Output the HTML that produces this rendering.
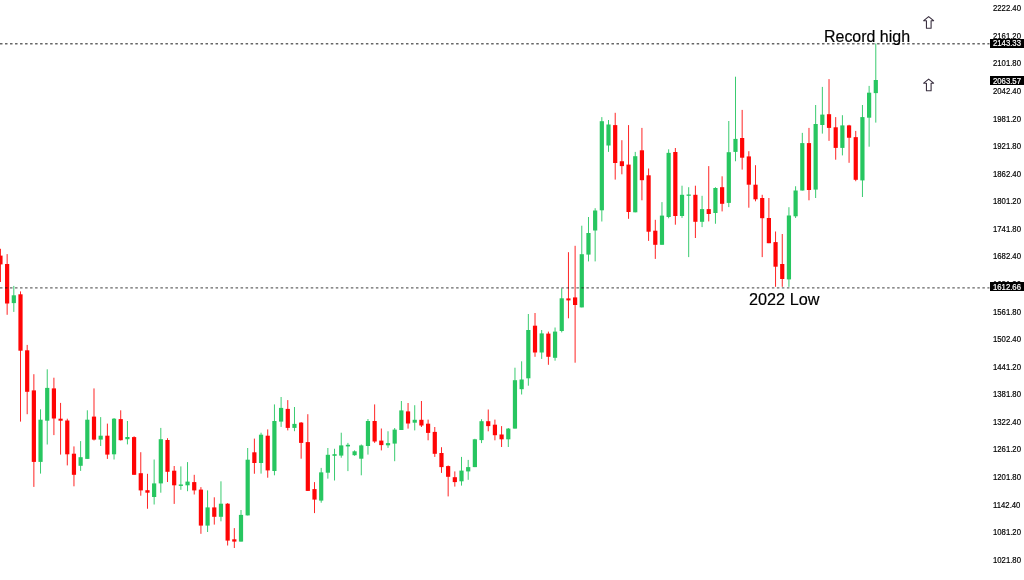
<!DOCTYPE html>
<html><head><meta charset="utf-8"><title>Chart</title>
<style>
html,body{margin:0;padding:0;background:#fff;}
body{width:1024px;height:580px;position:relative;overflow:hidden;font-family:"Liberation Sans",sans-serif;}
#chart{position:absolute;left:0;top:0;width:1024px;height:580px;}
.lab{position:absolute;left:993px;width:40px;height:10px;line-height:10px;font-size:8.8px;color:#000;white-space:nowrap;transform:scaleX(0.88);transform-origin:0 0;-webkit-text-stroke:0.2px #000;}
.box{position:absolute;left:989.5px;width:34.5px;height:9px;background:#000;color:#fff;font-size:8.8px;line-height:9px;white-space:nowrap;}
.box span{position:absolute;left:3.8px;top:0.5px;transform:scaleX(0.88);transform-origin:0 0;-webkit-text-stroke:0.2px #fff;}
.note{position:absolute;font-size:16px;line-height:18px;color:#000;transform-origin:0 0;-webkit-text-stroke:0.18px #000;white-space:nowrap;}
</style></head><body>
<svg id="chart" width="1024" height="580" viewBox="0 0 1024 580">
<rect x="-0.02" y="248.80" width="0.95" height="33.20" fill="#ff1a1a"/>
<rect x="-1.65" y="255.60" width="4.2" height="8.80" fill="#ff0505"/>
<rect x="6.66" y="254.10" width="0.95" height="60.70" fill="#ff1a1a"/>
<rect x="5.03" y="264.00" width="4.2" height="39.50" fill="#ff0505"/>
<rect x="13.34" y="285.90" width="0.95" height="26.00" fill="#30c969"/>
<rect x="11.71" y="295.30" width="4.2" height="7.80" fill="#27c660"/>
<rect x="20.02" y="291.40" width="0.95" height="130.20" fill="#ff1a1a"/>
<rect x="18.40" y="294.30" width="4.2" height="56.40" fill="#ff0505"/>
<rect x="26.70" y="344.90" width="0.95" height="69.30" fill="#ff1a1a"/>
<rect x="25.08" y="350.30" width="4.2" height="41.50" fill="#ff0505"/>
<rect x="33.39" y="374.20" width="0.95" height="112.70" fill="#ff1a1a"/>
<rect x="31.76" y="390.40" width="4.2" height="71.50" fill="#ff0505"/>
<rect x="40.07" y="409.30" width="0.95" height="64.30" fill="#30c969"/>
<rect x="38.44" y="419.70" width="4.2" height="42.20" fill="#27c660"/>
<rect x="46.75" y="369.30" width="0.95" height="75.20" fill="#30c969"/>
<rect x="45.12" y="387.90" width="4.2" height="32.80" fill="#27c660"/>
<rect x="53.43" y="377.70" width="0.95" height="57.40" fill="#ff1a1a"/>
<rect x="51.81" y="388.40" width="4.2" height="30.10" fill="#ff0505"/>
<rect x="60.11" y="402.90" width="0.95" height="51.70" fill="#ff1a1a"/>
<rect x="58.49" y="418.70" width="4.2" height="2.00" fill="#ff0505"/>
<rect x="66.80" y="418.70" width="0.95" height="46.70" fill="#ff1a1a"/>
<rect x="65.17" y="420.50" width="4.2" height="33.80" fill="#ff0505"/>
<rect x="73.48" y="446.40" width="0.95" height="39.90" fill="#ff1a1a"/>
<rect x="71.85" y="453.70" width="4.2" height="21.10" fill="#ff0505"/>
<rect x="80.16" y="441.10" width="0.95" height="29.80" fill="#30c969"/>
<rect x="78.53" y="457.20" width="4.2" height="8.60" fill="#27c660"/>
<rect x="86.84" y="410.30" width="0.95" height="48.60" fill="#30c969"/>
<rect x="85.22" y="419.70" width="4.2" height="39.20" fill="#27c660"/>
<rect x="93.52" y="388.40" width="0.95" height="52.10" fill="#ff1a1a"/>
<rect x="91.90" y="416.60" width="4.2" height="23.00" fill="#ff0505"/>
<rect x="100.21" y="417.10" width="0.95" height="28.90" fill="#30c969"/>
<rect x="98.58" y="435.70" width="4.2" height="3.90" fill="#27c660"/>
<rect x="106.89" y="423.60" width="0.95" height="35.30" fill="#ff1a1a"/>
<rect x="105.26" y="435.70" width="4.2" height="18.90" fill="#ff0505"/>
<rect x="113.57" y="418.00" width="0.95" height="41.50" fill="#30c969"/>
<rect x="111.94" y="418.70" width="4.2" height="35.60" fill="#27c660"/>
<rect x="120.25" y="410.30" width="0.95" height="30.20" fill="#ff1a1a"/>
<rect x="118.63" y="419.10" width="4.2" height="21.10" fill="#ff0505"/>
<rect x="126.93" y="421.00" width="0.95" height="23.40" fill="#30c969"/>
<rect x="125.31" y="437.00" width="4.2" height="2.20" fill="#27c660"/>
<rect x="133.62" y="436.30" width="0.95" height="38.50" fill="#ff1a1a"/>
<rect x="131.99" y="437.10" width="4.2" height="37.70" fill="#ff0505"/>
<rect x="140.30" y="452.20" width="0.95" height="43.50" fill="#ff1a1a"/>
<rect x="138.67" y="473.20" width="4.2" height="17.20" fill="#ff0505"/>
<rect x="146.98" y="473.80" width="0.95" height="34.95" fill="#ff1a1a"/>
<rect x="145.35" y="490.20" width="4.2" height="2.50" fill="#ff0505"/>
<rect x="153.66" y="459.50" width="0.95" height="45.00" fill="#30c969"/>
<rect x="152.04" y="483.40" width="4.2" height="13.60" fill="#27c660"/>
<rect x="160.34" y="427.90" width="0.95" height="64.80" fill="#30c969"/>
<rect x="158.72" y="439.20" width="4.2" height="44.20" fill="#27c660"/>
<rect x="167.03" y="438.20" width="0.95" height="43.80" fill="#ff1a1a"/>
<rect x="165.40" y="440.00" width="4.2" height="31.80" fill="#ff0505"/>
<rect x="173.71" y="466.00" width="0.95" height="37.90" fill="#ff1a1a"/>
<rect x="172.08" y="470.70" width="4.2" height="14.60" fill="#ff0505"/>
<rect x="180.39" y="466.40" width="0.95" height="23.40" fill="#30c969"/>
<rect x="178.76" y="484.50" width="4.2" height="1.40" fill="#27c660"/>
<rect x="187.07" y="462.10" width="0.95" height="29.10" fill="#30c969"/>
<rect x="185.45" y="481.60" width="4.2" height="3.70" fill="#27c660"/>
<rect x="193.75" y="474.80" width="0.95" height="19.70" fill="#ff1a1a"/>
<rect x="192.13" y="482.10" width="4.2" height="8.30" fill="#ff0505"/>
<rect x="200.44" y="487.10" width="0.95" height="46.70" fill="#ff1a1a"/>
<rect x="198.81" y="489.60" width="4.2" height="36.00" fill="#ff0505"/>
<rect x="207.12" y="490.40" width="0.95" height="41.60" fill="#30c969"/>
<rect x="205.49" y="507.40" width="4.2" height="18.20" fill="#27c660"/>
<rect x="213.80" y="497.30" width="0.95" height="27.30" fill="#ff1a1a"/>
<rect x="212.17" y="507.40" width="4.2" height="9.40" fill="#ff0505"/>
<rect x="220.48" y="481.30" width="0.95" height="40.00" fill="#30c969"/>
<rect x="218.86" y="503.70" width="4.2" height="13.10" fill="#27c660"/>
<rect x="227.16" y="503.10" width="0.95" height="42.40" fill="#ff1a1a"/>
<rect x="225.54" y="503.70" width="4.2" height="36.90" fill="#ff0505"/>
<rect x="233.84" y="528.10" width="0.95" height="19.90" fill="#ff1a1a"/>
<rect x="232.22" y="539.30" width="4.2" height="2.30" fill="#ff0505"/>
<rect x="240.53" y="510.00" width="0.95" height="31.60" fill="#30c969"/>
<rect x="238.90" y="514.90" width="4.2" height="26.70" fill="#27c660"/>
<rect x="247.21" y="448.00" width="0.95" height="67.40" fill="#30c969"/>
<rect x="245.58" y="459.70" width="4.2" height="55.70" fill="#27c660"/>
<rect x="253.89" y="438.60" width="0.95" height="35.15" fill="#ff1a1a"/>
<rect x="252.27" y="452.30" width="4.2" height="10.70" fill="#ff0505"/>
<rect x="260.57" y="432.70" width="0.95" height="40.90" fill="#30c969"/>
<rect x="258.95" y="434.70" width="4.2" height="28.30" fill="#27c660"/>
<rect x="267.25" y="429.40" width="0.95" height="48.30" fill="#ff1a1a"/>
<rect x="265.63" y="435.70" width="4.2" height="34.70" fill="#ff0505"/>
<rect x="273.94" y="404.40" width="0.95" height="70.90" fill="#30c969"/>
<rect x="272.31" y="421.00" width="4.2" height="50.00" fill="#27c660"/>
<rect x="280.62" y="397.00" width="0.95" height="29.90" fill="#30c969"/>
<rect x="278.99" y="407.90" width="4.2" height="13.70" fill="#27c660"/>
<rect x="287.30" y="400.10" width="0.95" height="30.30" fill="#ff1a1a"/>
<rect x="285.68" y="408.90" width="4.2" height="19.00" fill="#ff0505"/>
<rect x="293.98" y="407.00" width="0.95" height="24.20" fill="#30c969"/>
<rect x="292.36" y="423.90" width="4.2" height="4.00" fill="#27c660"/>
<rect x="300.66" y="422.00" width="0.95" height="36.70" fill="#ff1a1a"/>
<rect x="299.04" y="422.60" width="4.2" height="20.30" fill="#ff0505"/>
<rect x="307.35" y="414.20" width="0.95" height="76.70" fill="#ff1a1a"/>
<rect x="305.72" y="442.10" width="4.2" height="48.80" fill="#ff0505"/>
<rect x="314.03" y="482.10" width="0.95" height="31.00" fill="#ff1a1a"/>
<rect x="312.40" y="489.10" width="4.2" height="10.50" fill="#ff0505"/>
<rect x="320.71" y="467.90" width="0.95" height="34.80" fill="#30c969"/>
<rect x="319.09" y="472.35" width="4.2" height="28.25" fill="#27c660"/>
<rect x="327.39" y="448.00" width="0.95" height="30.65" fill="#30c969"/>
<rect x="325.77" y="454.80" width="4.2" height="17.90" fill="#27c660"/>
<rect x="334.07" y="448.75" width="0.95" height="31.75" fill="#30c969"/>
<rect x="332.45" y="454.20" width="4.2" height="1.60" fill="#27c660"/>
<rect x="340.76" y="432.70" width="0.95" height="25.00" fill="#30c969"/>
<rect x="339.13" y="445.40" width="4.2" height="10.20" fill="#27c660"/>
<rect x="347.44" y="442.90" width="0.95" height="28.20" fill="#30c969"/>
<rect x="345.81" y="444.80" width="4.2" height="1.60" fill="#27c660"/>
<rect x="354.12" y="450.30" width="0.95" height="5.50" fill="#30c969"/>
<rect x="352.50" y="451.30" width="4.2" height="3.90" fill="#27c660"/>
<rect x="360.80" y="444.50" width="0.95" height="30.80" fill="#30c969"/>
<rect x="359.18" y="445.40" width="4.2" height="13.30" fill="#27c660"/>
<rect x="367.49" y="419.00" width="0.95" height="35.60" fill="#30c969"/>
<rect x="365.86" y="421.00" width="4.2" height="25.00" fill="#27c660"/>
<rect x="374.17" y="404.40" width="0.95" height="38.50" fill="#ff1a1a"/>
<rect x="372.54" y="421.00" width="4.2" height="20.50" fill="#ff0505"/>
<rect x="380.85" y="428.50" width="0.95" height="21.90" fill="#ff1a1a"/>
<rect x="379.22" y="440.60" width="4.2" height="4.50" fill="#ff0505"/>
<rect x="387.53" y="431.25" width="0.95" height="16.60" fill="#30c969"/>
<rect x="385.91" y="443.10" width="4.2" height="2.20" fill="#27c660"/>
<rect x="394.21" y="428.00" width="0.95" height="33.20" fill="#30c969"/>
<rect x="392.59" y="429.60" width="4.2" height="14.00" fill="#27c660"/>
<rect x="400.89" y="401.00" width="0.95" height="29.00" fill="#30c969"/>
<rect x="399.27" y="410.40" width="4.2" height="19.60" fill="#27c660"/>
<rect x="407.58" y="403.00" width="0.95" height="25.60" fill="#ff1a1a"/>
<rect x="405.95" y="411.40" width="4.2" height="12.10" fill="#ff0505"/>
<rect x="414.26" y="405.20" width="0.95" height="25.20" fill="#30c969"/>
<rect x="412.63" y="419.80" width="4.2" height="2.90" fill="#27c660"/>
<rect x="420.94" y="401.00" width="0.95" height="26.00" fill="#ff1a1a"/>
<rect x="419.32" y="419.80" width="4.2" height="5.70" fill="#ff0505"/>
<rect x="427.62" y="419.60" width="0.95" height="20.70" fill="#ff1a1a"/>
<rect x="426.00" y="423.70" width="4.2" height="9.20" fill="#ff0505"/>
<rect x="434.31" y="427.00" width="0.95" height="29.90" fill="#ff1a1a"/>
<rect x="432.68" y="431.90" width="4.2" height="21.90" fill="#ff0505"/>
<rect x="440.99" y="447.20" width="0.95" height="25.70" fill="#ff1a1a"/>
<rect x="439.36" y="453.00" width="4.2" height="14.10" fill="#ff0505"/>
<rect x="447.67" y="465.50" width="0.95" height="30.90" fill="#ff1a1a"/>
<rect x="446.04" y="466.10" width="4.2" height="10.70" fill="#ff0505"/>
<rect x="454.35" y="471.40" width="0.95" height="15.20" fill="#ff1a1a"/>
<rect x="452.73" y="477.20" width="4.2" height="4.90" fill="#ff0505"/>
<rect x="461.03" y="456.90" width="0.95" height="28.70" fill="#30c969"/>
<rect x="459.41" y="470.60" width="4.2" height="10.70" fill="#27c660"/>
<rect x="467.71" y="459.90" width="0.95" height="19.90" fill="#30c969"/>
<rect x="466.09" y="467.10" width="4.2" height="4.30" fill="#27c660"/>
<rect x="474.40" y="438.80" width="0.95" height="28.30" fill="#30c969"/>
<rect x="472.77" y="439.30" width="4.2" height="27.80" fill="#27c660"/>
<rect x="481.08" y="419.20" width="0.95" height="23.90" fill="#30c969"/>
<rect x="479.45" y="421.20" width="4.2" height="18.90" fill="#27c660"/>
<rect x="487.76" y="409.50" width="0.95" height="21.80" fill="#ff1a1a"/>
<rect x="486.14" y="421.20" width="4.2" height="4.90" fill="#ff0505"/>
<rect x="494.44" y="419.60" width="0.95" height="20.70" fill="#ff1a1a"/>
<rect x="492.82" y="424.70" width="4.2" height="10.50" fill="#ff0505"/>
<rect x="501.12" y="426.10" width="0.95" height="20.90" fill="#ff1a1a"/>
<rect x="499.50" y="434.50" width="4.2" height="4.80" fill="#ff0505"/>
<rect x="507.81" y="428.00" width="0.95" height="19.00" fill="#30c969"/>
<rect x="506.18" y="428.60" width="4.2" height="10.70" fill="#27c660"/>
<rect x="514.49" y="367.70" width="0.95" height="60.90" fill="#30c969"/>
<rect x="512.86" y="380.20" width="4.2" height="48.40" fill="#27c660"/>
<rect x="521.17" y="361.30" width="0.95" height="33.20" fill="#30c969"/>
<rect x="519.55" y="379.50" width="4.2" height="9.70" fill="#27c660"/>
<rect x="527.85" y="314.00" width="0.95" height="71.70" fill="#30c969"/>
<rect x="526.23" y="330.00" width="4.2" height="48.30" fill="#27c660"/>
<rect x="534.54" y="313.00" width="0.95" height="43.80" fill="#ff1a1a"/>
<rect x="532.91" y="325.70" width="4.2" height="26.80" fill="#ff0505"/>
<rect x="541.22" y="330.00" width="0.95" height="28.90" fill="#30c969"/>
<rect x="539.59" y="333.40" width="4.2" height="19.10" fill="#27c660"/>
<rect x="547.90" y="331.60" width="0.95" height="33.20" fill="#ff1a1a"/>
<rect x="546.27" y="333.60" width="4.2" height="23.20" fill="#ff0505"/>
<rect x="554.58" y="327.50" width="0.95" height="33.20" fill="#30c969"/>
<rect x="552.96" y="331.60" width="4.2" height="26.20" fill="#27c660"/>
<rect x="561.26" y="288.40" width="0.95" height="44.00" fill="#30c969"/>
<rect x="559.64" y="298.30" width="4.2" height="32.70" fill="#27c660"/>
<rect x="567.95" y="252.20" width="0.95" height="66.10" fill="#ff1a1a"/>
<rect x="566.32" y="298.40" width="4.2" height="2.00" fill="#ff0505"/>
<rect x="574.63" y="245.80" width="0.95" height="116.90" fill="#ff1a1a"/>
<rect x="573.00" y="297.40" width="4.2" height="7.60" fill="#ff0505"/>
<rect x="581.31" y="225.70" width="0.95" height="81.70" fill="#30c969"/>
<rect x="579.68" y="254.20" width="4.2" height="53.20" fill="#27c660"/>
<rect x="587.99" y="217.00" width="0.95" height="44.40" fill="#30c969"/>
<rect x="586.37" y="233.00" width="4.2" height="21.60" fill="#27c660"/>
<rect x="594.67" y="208.20" width="0.95" height="53.20" fill="#30c969"/>
<rect x="593.05" y="210.50" width="4.2" height="20.00" fill="#27c660"/>
<rect x="601.36" y="117.10" width="0.95" height="104.40" fill="#30c969"/>
<rect x="599.73" y="121.20" width="4.2" height="89.10" fill="#27c660"/>
<rect x="608.04" y="120.00" width="0.95" height="31.90" fill="#30c969"/>
<rect x="606.41" y="124.50" width="4.2" height="21.00" fill="#27c660"/>
<rect x="614.72" y="112.80" width="0.95" height="66.80" fill="#ff1a1a"/>
<rect x="613.09" y="125.10" width="4.2" height="37.90" fill="#ff0505"/>
<rect x="621.40" y="140.20" width="0.95" height="34.10" fill="#ff1a1a"/>
<rect x="619.78" y="161.25" width="4.2" height="4.85" fill="#ff0505"/>
<rect x="628.08" y="125.10" width="0.95" height="93.70" fill="#ff1a1a"/>
<rect x="626.46" y="164.60" width="4.2" height="47.40" fill="#ff0505"/>
<rect x="634.77" y="151.90" width="0.95" height="60.40" fill="#30c969"/>
<rect x="633.14" y="156.20" width="4.2" height="56.10" fill="#27c660"/>
<rect x="641.45" y="127.90" width="0.95" height="72.40" fill="#ff1a1a"/>
<rect x="639.82" y="150.30" width="4.2" height="29.90" fill="#ff0505"/>
<rect x="648.13" y="168.50" width="0.95" height="72.40" fill="#ff1a1a"/>
<rect x="646.50" y="175.30" width="4.2" height="56.40" fill="#ff0505"/>
<rect x="654.81" y="219.80" width="0.95" height="39.10" fill="#ff1a1a"/>
<rect x="653.19" y="230.70" width="4.2" height="14.10" fill="#ff0505"/>
<rect x="661.49" y="202.10" width="0.95" height="42.70" fill="#30c969"/>
<rect x="659.87" y="215.60" width="4.2" height="29.20" fill="#27c660"/>
<rect x="668.18" y="149.30" width="0.95" height="69.00" fill="#30c969"/>
<rect x="666.55" y="152.85" width="4.2" height="64.15" fill="#27c660"/>
<rect x="674.86" y="148.00" width="0.95" height="76.70" fill="#ff1a1a"/>
<rect x="673.23" y="152.00" width="4.2" height="64.00" fill="#ff0505"/>
<rect x="681.54" y="185.70" width="0.95" height="32.20" fill="#30c969"/>
<rect x="679.91" y="194.80" width="4.2" height="21.20" fill="#27c660"/>
<rect x="688.22" y="187.20" width="0.95" height="69.90" fill="#30c969"/>
<rect x="686.60" y="194.50" width="4.2" height="1.30" fill="#27c660"/>
<rect x="694.90" y="185.70" width="0.95" height="52.30" fill="#ff1a1a"/>
<rect x="693.28" y="194.80" width="4.2" height="27.00" fill="#ff0505"/>
<rect x="701.59" y="195.80" width="0.95" height="31.30" fill="#30c969"/>
<rect x="699.96" y="209.10" width="4.2" height="12.70" fill="#27c660"/>
<rect x="708.27" y="166.10" width="0.95" height="55.30" fill="#ff1a1a"/>
<rect x="706.64" y="209.10" width="4.2" height="4.90" fill="#ff0505"/>
<rect x="714.95" y="187.20" width="0.95" height="36.55" fill="#30c969"/>
<rect x="713.32" y="188.00" width="4.2" height="25.00" fill="#27c660"/>
<rect x="721.63" y="176.30" width="0.95" height="35.10" fill="#ff1a1a"/>
<rect x="720.01" y="187.20" width="4.2" height="16.60" fill="#ff0505"/>
<rect x="728.31" y="121.00" width="0.95" height="86.10" fill="#30c969"/>
<rect x="726.69" y="152.20" width="4.2" height="50.70" fill="#27c660"/>
<rect x="735.00" y="76.70" width="0.95" height="84.55" fill="#30c969"/>
<rect x="733.37" y="138.90" width="4.2" height="13.00" fill="#27c660"/>
<rect x="741.68" y="109.90" width="0.95" height="59.70" fill="#ff1a1a"/>
<rect x="740.05" y="138.00" width="4.2" height="19.70" fill="#ff0505"/>
<rect x="748.36" y="151.20" width="0.95" height="56.50" fill="#ff1a1a"/>
<rect x="746.73" y="156.40" width="4.2" height="28.30" fill="#ff0505"/>
<rect x="755.04" y="165.20" width="0.95" height="36.10" fill="#ff1a1a"/>
<rect x="753.42" y="184.70" width="4.2" height="14.60" fill="#ff0505"/>
<rect x="761.72" y="194.80" width="0.95" height="62.30" fill="#ff1a1a"/>
<rect x="760.10" y="198.00" width="4.2" height="20.20" fill="#ff0505"/>
<rect x="768.41" y="198.00" width="0.95" height="45.20" fill="#ff1a1a"/>
<rect x="766.78" y="218.00" width="4.2" height="25.20" fill="#ff0505"/>
<rect x="775.09" y="231.50" width="0.95" height="55.30" fill="#ff1a1a"/>
<rect x="773.46" y="242.10" width="4.2" height="24.60" fill="#ff0505"/>
<rect x="781.77" y="234.00" width="0.95" height="52.80" fill="#ff1a1a"/>
<rect x="780.14" y="264.00" width="4.2" height="15.00" fill="#ff0505"/>
<rect x="788.45" y="207.20" width="0.95" height="79.60" fill="#30c969"/>
<rect x="786.83" y="215.50" width="4.2" height="63.90" fill="#27c660"/>
<rect x="795.13" y="186.25" width="0.95" height="31.75" fill="#30c969"/>
<rect x="793.51" y="190.50" width="4.2" height="25.80" fill="#27c660"/>
<rect x="801.82" y="132.85" width="0.95" height="57.65" fill="#30c969"/>
<rect x="800.19" y="143.10" width="4.2" height="47.40" fill="#27c660"/>
<rect x="808.50" y="127.90" width="0.95" height="72.40" fill="#ff1a1a"/>
<rect x="806.87" y="143.10" width="4.2" height="46.90" fill="#ff0505"/>
<rect x="815.18" y="105.00" width="0.95" height="93.00" fill="#30c969"/>
<rect x="813.55" y="124.00" width="4.2" height="65.60" fill="#27c660"/>
<rect x="821.86" y="86.90" width="0.95" height="46.70" fill="#30c969"/>
<rect x="820.24" y="114.60" width="4.2" height="10.40" fill="#27c660"/>
<rect x="828.54" y="79.10" width="0.95" height="61.75" fill="#ff1a1a"/>
<rect x="826.92" y="114.20" width="4.2" height="13.70" fill="#ff0505"/>
<rect x="835.23" y="117.10" width="0.95" height="42.60" fill="#ff1a1a"/>
<rect x="833.60" y="127.30" width="4.2" height="20.60" fill="#ff0505"/>
<rect x="841.91" y="115.20" width="0.95" height="40.20" fill="#30c969"/>
<rect x="840.28" y="125.40" width="4.2" height="22.50" fill="#27c660"/>
<rect x="848.59" y="124.80" width="0.95" height="38.00" fill="#ff1a1a"/>
<rect x="846.96" y="125.40" width="4.2" height="12.35" fill="#ff0505"/>
<rect x="855.27" y="130.90" width="0.95" height="50.30" fill="#ff1a1a"/>
<rect x="853.65" y="137.15" width="4.2" height="42.65" fill="#ff0505"/>
<rect x="861.95" y="105.00" width="0.95" height="92.00" fill="#30c969"/>
<rect x="860.33" y="117.10" width="4.2" height="63.30" fill="#27c660"/>
<rect x="868.64" y="85.90" width="0.95" height="60.80" fill="#30c969"/>
<rect x="867.01" y="92.70" width="4.2" height="25.00" fill="#27c660"/>
<rect x="875.32" y="43.50" width="0.95" height="79.10" fill="#30c969"/>
<rect x="873.69" y="80.00" width="4.2" height="13.10" fill="#27c660"/>
<line x1="0" y1="43.8" x2="989.5" y2="43.8" stroke="#000" stroke-opacity="0.6" stroke-width="1.4" stroke-dasharray="2.506 2.506"/>
<line x1="0" y1="287.9" x2="989.5" y2="287.9" stroke="#000" stroke-opacity="0.6" stroke-width="1.4" stroke-dasharray="2.506 2.506"/>
<path d="M928.65 16.55 L933.6 20.70 L931.1 20.70 L931.1 28.20 L926.45 28.20 L926.45 20.70 L923.7 20.70 Z" fill="#fff" stroke="#3a3040" stroke-width="1.1" stroke-linejoin="round"/>
<path d="M928.65 79.05 L933.6 83.20 L931.1 83.20 L931.1 90.70 L926.45 90.70 L926.45 83.20 L923.7 83.20 Z" fill="#fff" stroke="#3a3040" stroke-width="1.1" stroke-linejoin="round"/>
</svg>
<div class="lab" style="top:3.3px">2222.40</div>
<div class="lab" style="top:30.9px">2161.20</div>
<div class="lab" style="top:58.4px">2101.80</div>
<div class="lab" style="top:86.0px">2042.40</div>
<div class="lab" style="top:113.6px">1981.20</div>
<div class="lab" style="top:141.1px">1921.80</div>
<div class="lab" style="top:168.7px">1862.40</div>
<div class="lab" style="top:196.3px">1801.20</div>
<div class="lab" style="top:223.8px">1741.80</div>
<div class="lab" style="top:251.4px">1682.40</div>
<div class="lab" style="top:279.0px">1621.20</div>
<div class="lab" style="top:306.5px">1561.80</div>
<div class="lab" style="top:334.1px">1502.40</div>
<div class="lab" style="top:361.6px">1441.20</div>
<div class="lab" style="top:389.2px">1381.80</div>
<div class="lab" style="top:416.8px">1322.40</div>
<div class="lab" style="top:444.3px">1261.20</div>
<div class="lab" style="top:471.9px">1201.80</div>
<div class="lab" style="top:499.5px">1142.40</div>
<div class="lab" style="top:527.0px">1081.20</div>
<div class="lab" style="top:554.6px">1021.80</div>
<div class="box" style="top:38.5px"><span>2143.33</span></div>
<div class="box" style="top:76.2px"><span>2063.57</span></div>
<div class="box" style="top:282.4px"><span>1612.66</span></div>
<div class="note" style="left:824.4px;top:27.8px;transform:scaleX(0.997)">Record high</div>
<div class="note" style="left:748.6px;top:290.6px;transform:scaleX(1.016)">2022 Low</div>
</body></html>
